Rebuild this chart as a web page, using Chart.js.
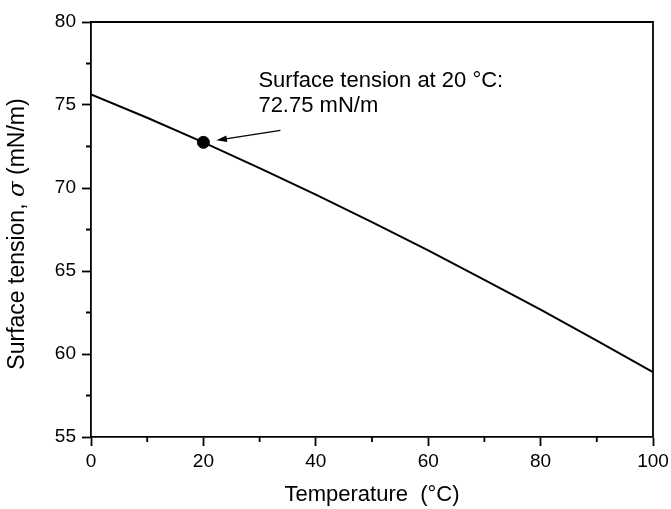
<!DOCTYPE html>
<html>
<head>
<meta charset="utf-8">
<script src="https://cdn.jsdelivr.net/npm/chart.js@4.4.1/dist/chart.umd.min.js"></script>
<style>
  html, body { margin: 0; padding: 0; background: #fff; }
  #wrap { width: 671px; height: 509px; position: relative; }
</style>
</head>
<body>
<div id="wrap"><canvas id="chart"></canvas></div>
<script>
// Surface tension of water vs temperature

const temperatures = [0, 10, 20, 30, 40, 50, 60, 70, 80, 90, 100];
const surfaceTension = [75.64, 74.23, 72.75, 71.20, 69.60, 67.94, 66.24, 64.47, 62.67, 60.80, 58.91];
const markedPoint = [{ x: 20, y: 72.75 }];
const noteLines = ['Surface tension at 20 °C:', '72.75 mN/m'];
const xMinorTicks = [10, 30, 50, 70, 90];
const yMinorTicks = [57.5, 62.5, 67.5, 72.5, 77.5];

const FONT = '"Liberation Sans", Arial, sans-serif';

// frame, minor ticks, y title and the arrow note
const extras = {
  id: 'extras',
  afterDraw(chart) {
    const { ctx, chartArea: a, scales } = chart;
    const x = scales.x, y = scales.y;
    ctx.save();
    ctx.strokeStyle = '#000';
    ctx.lineWidth = 1.8;

    // top and right frame
    ctx.beginPath();
    ctx.moveTo(a.left, a.top);
    ctx.lineTo(a.right, a.top);
    ctx.lineTo(a.right, a.bottom);
    ctx.stroke();

    // minor ticks (outside)
    ctx.beginPath();
    for (const v of xMinorTicks) {
      const px = x.getPixelForValue(v);
      ctx.moveTo(px, a.bottom);
      ctx.lineTo(px, a.bottom + 5);
    }
    for (const v of yMinorTicks) {
      const py = y.getPixelForValue(v);
      ctx.moveTo(a.left, py);
      ctx.lineTo(a.left - 5, py);
    }
    ctx.stroke();

    // y axis title with italic sigma
    ctx.fillStyle = '#000';
    ctx.translate(18, 234);
    ctx.rotate(-Math.PI / 2);
    ctx.textBaseline = 'middle';
    const parts = [
      { t: 'Surface tension, ', f: '23px ' + FONT },
      { t: 'σ', f: 'italic 23px "DejaVu Serif", serif' },
      { t: ' (mN/m)', f: '23px ' + FONT }
    ];
    let total = 0;
    for (const p of parts) { ctx.font = p.f; total += ctx.measureText(p.t).width; }
    let cx = -total / 2;
    for (const p of parts) {
      ctx.font = p.f;
      ctx.fillText(p.t, cx, 0);
      cx += ctx.measureText(p.t).width;
    }
    ctx.restore();

    // note and arrow
    const px = x.getPixelForValue(markedPoint[0].x);
    const py = y.getPixelForValue(markedPoint[0].y);
    ctx.save();
    ctx.fillStyle = '#000';
    ctx.strokeStyle = '#000';
    ctx.font = '22px ' + FONT;
    ctx.textBaseline = 'middle';
    ctx.fillText(noteLines[0], px + 55, py - 61);
    ctx.fillText(noteLines[1], px + 55, py - 36);

    const tipX = px + 13, tipY = py - 2;
    const tailX = px + 77, tailY = py - 12;
    ctx.lineWidth = 1.3;
    ctx.beginPath();
    ctx.moveTo(tailX, tailY);
    ctx.lineTo(tipX + 6, tipY - 1);
    ctx.stroke();
    const ang = Math.atan2(tipY - tailY, tipX - tailX);
    ctx.beginPath();
    ctx.moveTo(tipX, tipY);
    ctx.lineTo(tipX - 11 * Math.cos(ang - 0.3), tipY - 11 * Math.sin(ang - 0.3));
    ctx.lineTo(tipX - 11 * Math.cos(ang + 0.3), tipY - 11 * Math.sin(ang + 0.3));
    ctx.closePath();
    ctx.fill();
    ctx.restore();
  }
};

const ctx = document.getElementById('chart').getContext('2d');
new Chart(ctx, {
  type: 'line',
  data: {
    datasets: [
      {
        label: 'Surface tension',
        data: temperatures.map((t, i) => ({ x: t, y: surfaceTension[i] })),
        borderColor: '#000',
        borderWidth: 2,
        pointRadius: 0,
        tension: 0
      },
      {
        type: 'scatter',
        label: '20 °C',
        data: markedPoint,
        pointRadius: 6,
        pointBackgroundColor: '#000',
        pointBorderColor: '#000'
      }
    ]
  },
  options: {
    responsive: true,
    maintainAspectRatio: false,
    animation: false,
    layout: { padding: { top: 22, right: 18, left: 0, bottom: 0 } },
    plugins: { legend: { display: false }, tooltip: { enabled: false } },
    scales: {
      x: {
        type: 'linear',
        min: 0,
        max: 100,
        afterFit: s => { s.height = 72; s.paddingLeft = 0; s.paddingRight = 0; },
        ticks: { stepSize: 20, color: '#000', padding: 4, font: { family: FONT, size: 19 } },
        grid: { drawOnChartArea: false, drawTicks: true, tickLength: 9, tickColor: '#000', tickWidth: 1.8 },
        border: { display: true, color: '#000', width: 1.8 },
        title: { display: true, text: 'Temperature  (°C)', color: '#000', font: { family: FONT, size: 22 }, padding: { top: 0, bottom: 1 } }
      },
      y: {
        min: 55,
        max: 80,
        afterFit: s => { s.width = 91; s.paddingTop = 0; s.paddingBottom = 0; },
        ticks: { stepSize: 5, color: '#000', padding: 6, font: { family: FONT, size: 19 } },
        grid: { drawOnChartArea: false, drawTicks: true, tickLength: 9, tickColor: '#000', tickWidth: 1.8 },
        border: { display: true, color: '#000', width: 1.8 }
      }
    }
  },
  plugins: [extras]
});
</script>
</body>
</html>
